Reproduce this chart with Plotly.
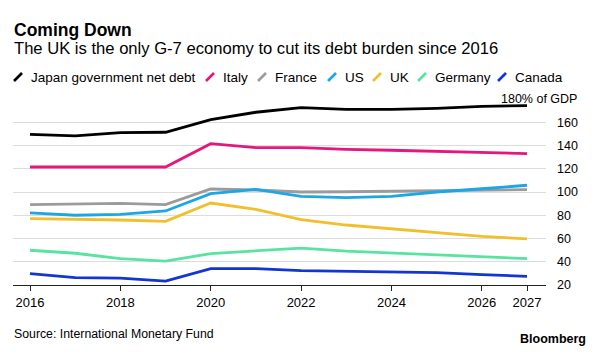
import plotly.graph_objects as go

years = list(range(2016, 2028))
series_names = ["Japan government net debt", "Italy", "France", "US", "UK", "Germany", "Canada"]
series_colors = ["#000000", "#e5177f", "#9b9b9b", "#1ea6e4", "#f2bf2c", "#58e3a0", "#1535d2"]
japan = [149.6, 148.2, 151.1, 151.4, 162.3, 168.6, 172.6, 171.1, 171.1, 172.0, 173.7, 174.3]
italy = [121.5, 121.5, 121.5, 121.5, 141.6, 138.2, 138.2, 136.7, 135.9, 135.0, 133.9, 133.0]
france = [89.2, 90.0, 90.3, 89.2, 102.6, 101.7, 100.0, 100.2, 100.6, 101.0, 101.5, 102.0]
us = [82.0, 80.0, 80.8, 83.7, 98.6, 102.3, 96.3, 95.2, 96.3, 100.0, 102.8, 105.8]
uk = [77.1, 76.8, 75.9, 74.8, 90.5, 85.1, 76.3, 71.6, 68.5, 65.3, 61.9, 59.6]
germany = [49.9, 47.3, 42.7, 40.6, 47.0, 49.2, 51.8, 49.2, 47.5, 46.2, 44.7, 42.7]
canada = [29.8, 26.4, 26.0, 23.4, 34.1, 34.1, 32.4, 31.8, 31.8, 30.7, 28.9, 27.5]
series_values = [japan, italy, france, us, uk, germany, canada]

x_tickvals = [2016, 2018, 2020, 2022, 2024, 2026, 2027]
x_ticktext = ["2016", "2018", "2020", "2022", "2024", "2026", "2027"]
y_tickvals = [20, 40, 60, 80, 100, 120, 140, 160, 180]
y_ticktext = ["20", "40", "60", "80", "100", "120", "140", "160", ""]

title = "Coming Down"
subtitle = "The UK is the only G-7 economy to cut its debt burden since 2016"
unit_label = "180% of GDP"
source = "Source: International Monetary Fund"
brand = "Bloomberg"

W, H = 600, 352
ML, MR, MT, MB = 13, 54, 99, 67
PW, PH = W - ML - MR, H - MT - MB


def px(xp):
    return (xp - ML) / PW


def py(yp):
    return (H - MB - yp) / PH


FONT = "Liberation Sans, Arial, sans-serif"

fig = go.Figure()
for name, vals, col in zip(series_names, series_values, series_colors):
    fig.add_trace(go.Scatter(x=years, y=vals, mode="lines", name=name,
                             line=dict(color=col, width=2.8), showlegend=False,
                             hoverinfo="skip"))

annotations = []
shapes = []
annotations.append(dict(text="<b>" + title + "</b>", x=px(12), y=py(29.5), xref="paper", yref="paper",
                        xanchor="left", yanchor="middle", showarrow=False,
                        font=dict(size=17.5, color="#000", family=FONT)))
annotations.append(dict(text=subtitle, x=px(12), y=py(48.5), xref="paper", yref="paper",
                        xanchor="left", yanchor="middle", showarrow=False,
                        font=dict(size=16.6, color="#000", family=FONT)))

legend_x = [13, 205, 257, 327, 372, 417, 497]
for name, col, lx in zip(series_names, series_colors, legend_x):
    shapes.append(dict(type="line", xref="paper", yref="paper",
                       x0=px(lx + 1), y0=py(81), x1=px(lx + 9), y1=py(73),
                       line=dict(color=col, width=2.6)))
    annotations.append(dict(text=name, x=px(lx + 16), y=py(77), xref="paper", yref="paper",
                            xanchor="left", yanchor="middle", showarrow=False,
                            font=dict(size=13.5, color="#000", family=FONT)))

annotations.append(dict(text=unit_label, x=px(579), y=180, xref="paper", yref="y",
                        xanchor="right", yanchor="middle", showarrow=False,
                        font=dict(size=12.5, color="#000", family=FONT)))
annotations.append(dict(text=source, x=px(12), y=py(334), xref="paper", yref="paper",
                        xanchor="left", yanchor="middle", showarrow=False,
                        font=dict(size=12.3, color="#000", family=FONT)))
annotations.append(dict(text="<b>" + brand + "</b>", x=px(588), y=py(339), xref="paper", yref="paper",
                        xanchor="right", yanchor="middle", showarrow=False,
                        font=dict(size=12.5, color="#000", family=FONT)))

fig.update_layout(
    width=W, height=H,
    margin=dict(l=ML, r=MR, t=MT, b=MB, pad=0),
    paper_bgcolor="white", plot_bgcolor="white",
    font=dict(family=FONT, size=12.5, color="#000"),
    annotations=annotations, shapes=shapes,
    xaxis=dict(range=[2016 - 17 / 45.18, 2027 + 19 / 45.18], tickvals=x_tickvals, ticktext=x_ticktext,
               showgrid=False, zeroline=False, showline=True, linecolor="#222", linewidth=1,
               ticks="outside", ticklen=5, tickcolor="#222", tickwidth=1,
               tickfont=dict(size=13, family=FONT, color="#000")),
    yaxis=dict(range=[20, 180], side="right", tickvals=y_tickvals, ticktext=y_ticktext,
               showgrid=True, gridcolor="#dcdcdc", gridwidth=1, zeroline=False,
               showline=False, ticks="", ticklabelstandoff=10,
               tickfont=dict(size=12.5, family=FONT, color="#000")),
)

fig.write_html("out.html")
